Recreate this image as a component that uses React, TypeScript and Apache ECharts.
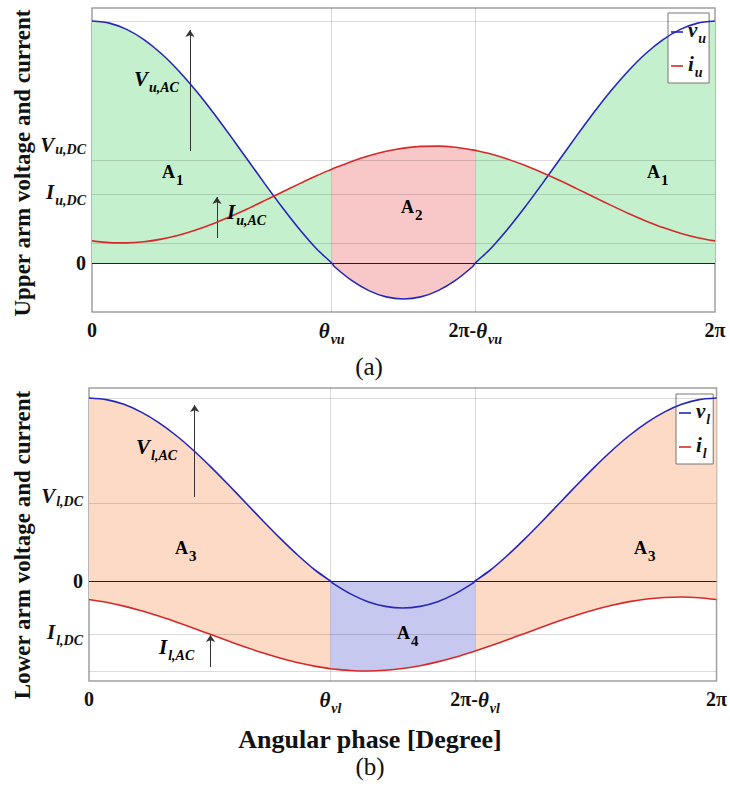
import React, { useEffect, useRef } from 'react';
import * as echarts from 'echarts';

// Angular phase samples (degrees); 138.5 and 221.5 are theta and 2pi - theta
const phaseDeg = [0, 10, 20, 30, 40, 50, 60, 70, 80, 90, 100, 110, 120, 130, 138.5, 140, 150, 160, 170, 180, 190, 200, 210, 220, 221.5, 230, 240, 250, 260, 270, 280, 290, 300, 310, 320, 330, 340, 350, 360];
// Upper arm voltage / current (arbitrary units)
const vUpper = [24.2, 23.99, 23.36, 22.34, 20.95, 19.23, 17.25, 15.05, 12.71, 10.3, 7.89, 5.55, 3.35, 1.37, 0, -0.35, -1.74, -2.76, -3.39, -3.6, -3.39, -2.76, -1.74, -0.35, 0, 1.37, 3.35, 5.55, 7.89, 10.3, 12.71, 15.05, 17.25, 19.23, 20.95, 22.34, 23.36, 23.99, 24.2];
const iUpper = [2.21, 2.04, 2.01, 2.12, 2.39, 2.78, 3.3, 3.93, 4.65, 5.43, 6.26, 7.1, 7.94, 8.75, 9.38, 9.49, 10.16, 10.72, 11.17, 11.49, 11.66, 11.69, 11.58, 11.31, 11.26, 10.92, 10.4, 9.77, 9.05, 8.27, 7.44, 6.6, 5.76, 4.95, 4.21, 3.54, 2.98, 2.53, 2.21];
// Lower arm voltage / current
const vLower = [18.3, 18.14, 17.67, 16.89, 15.84, 14.55, 13.05, 11.39, 9.62, 7.8, 5.98, 4.21, 2.55, 1.05, 0, -0.24, -1.29, -2.07, -2.54, -2.7, -2.54, -2.07, -1.29, -0.24, 0, 1.05, 2.55, 4.21, 5.98, 7.8, 9.62, 11.39, 13.05, 14.55, 15.84, 16.89, 17.67, 18.14, 18.3];
const iLower = [-1.85, -2.13, -2.51, -2.97, -3.51, -4.1, -4.72, -5.36, -6.01, -6.63, -7.21, -7.73, -8.18, -8.54, -8.77, -8.8, -8.95, -9.0, -8.93, -8.75, -8.47, -8.09, -7.63, -7.09, -7.01, -6.5, -5.88, -5.24, -4.59, -3.97, -3.39, -2.87, -2.42, -2.06, -1.8, -1.65, -1.6, -1.67, -1.85];

const thetaDeg = 138.5;
const xTickValues = [0, thetaDeg, 360 - thetaDeg, 360];
const upperGridValues = [24.2, 10.3, 6.85, 2.0];
const lowerGridValues = [18.3, 7.8, -5.3, -9.0];
const upperTickValues = [0, 6.85, 10.3];
const lowerTickValues = [-5.3, 0, 7.8];
const upperTickLabels = ['0', 'I|u,DC', 'V|u,DC'];
const lowerTickLabels = ['I|l,DC', '0', 'V|l,DC'];

const FONT = 'Liberation Serif, serif';
const INK = '#111';
const BLUE = '#2626b8';
const RED = '#d42a2a';
const GREEN_FILL = '#c4f0cd';
const PINK_FILL = '#f8c8c9';
const PEACH_FILL = '#fcdac6';
const LAV_FILL = '#c6c8ef';

const base = { fontFamily: FONT, fontWeight: 'bold', color: INK, verticalAlign: 'top' };
const rich: any = {
  m: { ...base, fontSize: 21, fontStyle: 'italic' },
  s: { ...base, fontSize: 14, fontStyle: 'italic', padding: [12, 0, 0, 1] },
  mU: { ...base, fontSize: 21, fontStyle: 'italic', padding: [0, 0, 30, 0] },
  sU: { ...base, fontSize: 14, fontStyle: 'italic', padding: [8, 0, 22, 1] },
  mL: { ...base, fontSize: 21, fontStyle: 'italic', padding: [0, 0, 14, 0] },
  sL: { ...base, fontSize: 14, fontStyle: 'italic', padding: [9, 0, 5, 1] },
  n: { ...base, fontSize: 20 },
  a: { ...base, fontSize: 18 },
  d: { ...base, fontSize: 15, padding: [9, 0, 0, 1] },
};

const sub = (m: string, s: string, k = '') => `{m${k}|${m}}{s${k}|${s}}`;

function xFormatter(suffix: string) {
  return (v: number) => {
    if (Math.abs(v) < 1e-6) return '{n|0}';
    if (Math.abs(v - 360) < 1e-6) return '{n|2π}';
    if (v < 180) return sub('θ', suffix);
    return `{n|2π-}${sub('θ', suffix)}`;
  };
}

function yFormatter(values: number[], labels: string[], vKey: string) {
  return (v: number) => {
    const k = values.findIndex((t) => Math.abs(t - v) < 1e-6);
    if (k < 0) return '';
    const lab = labels[k];
    if (lab === '0') return '{n|0}';
    const [m, s] = lab.split('|');
    return sub(m, s, m === 'V' ? vKey : '');
  };
}

function mask(vals: number[], outer: boolean) {
  return phaseDeg.map((p, k) => {
    const inner = p >= thetaDeg && p <= 360 - thetaDeg;
    const inOuter = p <= thetaDeg || p >= 360 - thetaDeg;
    return [p, (outer ? inOuter : inner) ? vals[k] : null];
  });
}

function full(vals: number[]) {
  return phaseDeg.map((p, k) => [p, vals[k]]);
}

const SMOOTH = 0.25;

function fillSeries(name: string, idx: number, data: any[], color: string) {
  return {
    name, type: 'line', xAxisIndex: idx, yAxisIndex: idx, data, showSymbol: false, silent: true, smooth: SMOOTH,
    lineStyle: { width: 0, opacity: 0 }, areaStyle: { color, opacity: 1 }, z: 1,
    emphasis: { disabled: true },
  };
}

function gridSeries(idx: number, hValues: number[], arrows: any[]) {
  const gridColor = 'rgba(0,0,0,0.14)';
  return {
    name: 'grid' + idx, type: 'line', xAxisIndex: idx, yAxisIndex: idx, data: [[0, 0]], showSymbol: false,
    silent: true, lineStyle: { opacity: 0 }, z: 3,
    markLine: {
      silent: true, symbol: 'none', animation: false, label: { show: false },
      data: [
        ...hValues.map((y) => ({ yAxis: y, lineStyle: { color: gridColor, width: 1, type: 'solid' } })),
        { yAxis: 0, lineStyle: { color: '#222', width: 1, type: 'solid' } },
        { xAxis: thetaDeg, lineStyle: { color: gridColor, width: 1, type: 'solid' } },
        { xAxis: 360 - thetaDeg, lineStyle: { color: gridColor, width: 1, type: 'solid' } },
        ...arrows.map(([x, y0, y1]) => [
          { coord: [x, y0], symbol: 'none', lineStyle: { color: '#333', width: 1, type: 'solid' } },
          { coord: [x, y1], symbol: 'arrow', symbolSize: 7 },
        ]),
      ],
    },
  };
}

function lineSeries(name: string, idx: number, vals: number[], color: string) {
  return {
    name, type: 'line', xAxisIndex: idx, yAxisIndex: idx, data: full(vals), showSymbol: false, silent: true, smooth: SMOOTH,
    color, itemStyle: { color }, lineStyle: { color, width: 1.6 }, z: 5, emphasis: { disabled: true },
  };
}

function axisPair(idx: number, yMin: number, yMax: number, ticks: number[], labels: string[], suffix: string, vKey: string) {
  const x = {
    type: 'value', gridIndex: idx, min: 0, max: 360,
    axisLine: { show: false, onZero: false }, axisTick: { show: false }, splitLine: { show: false },
    axisLabel: { customValues: xTickValues, formatter: xFormatter(suffix), rich, margin: 8 },
  };
  const y = {
    type: 'value', gridIndex: idx, min: yMin, max: yMax,
    axisLine: { show: false, onZero: false }, axisTick: { show: false }, splitLine: { show: false },
    axisLabel: { customValues: ticks, formatter: yFormatter(ticks, labels, vKey), rich, margin: 6 },
  };
  return { x, y };
}

function legendFor(names: string[], left: number, top: number) {
  return {
    data: names, left, top, orient: 'vertical', selectedMode: false,
    backgroundColor: '#fff', borderColor: '#777', borderWidth: 1, borderRadius: 0,
    padding: [6, 3, 4, 3], itemGap: 8, itemWidth: 12, itemHeight: 1.6, icon: 'rect',
    formatter: (n: string) => {
      const [m, s] = n.split('_');
      return sub(m, s);
    },
    textStyle: { rich },
  };
}

function label(text: string, left: number, top: number) {
  return { type: 'text', x: left, y: top, z: 100, silent: true, style: { text, rich, align: 'left', verticalAlign: 'top', textAlign: 'left', textVerticalAlign: 'top' } };
}

function title(text: string, x: number, y: number, size: number, bold: boolean, rotate: boolean) {
  return {
    type: 'text', x, y, z: 100, rotation: rotate ? Math.PI / 2 : 0, silent: true,
    style: {
      text, fill: INK, fontFamily: FONT, fontSize: size, fontWeight: bold ? 'bold' : 'normal',
      align: 'center', verticalAlign: 'middle', textAlign: 'center', textVerticalAlign: 'middle',
    },
  };
}

export default function App() {
  const ref = useRef<HTMLDivElement>(null);
  useEffect(() => {
    if (!ref.current) return;
    const chart = echarts.init(ref.current, undefined, { renderer: 'svg' });
    const a0 = axisPair(0, -4.9, 25.5, upperTickValues, upperTickLabels, 'vu', 'U');
    const a1 = axisPair(1, -10.0, 19.3, lowerTickValues, lowerTickLabels, 'vl', 'L');
    chart.setOption({
      animation: false,
      backgroundColor: '#fff',
      grid: [
        { left: 92, top: 8, width: 623, height: 304, show: true, borderColor: '#a0a0a0', borderWidth: 1.5, backgroundColor: 'transparent' },
        { left: 89, top: 388, width: 630, height: 293, show: true, borderColor: '#a0a0a0', borderWidth: 1.5, backgroundColor: 'transparent' },
      ],
      xAxis: [a0.x, a1.x],
      yAxis: [a0.y, a1.y],
      legend: [legendFor(['v_u', 'i_u'], 668, 13), legendFor(['v_l', 'i_l'], 676, 394)],
      series: [
        fillSeries('A1 v', 0, mask(vUpper, true), GREEN_FILL),
        fillSeries('A1 i', 0, mask(iUpper, true), GREEN_FILL),
        fillSeries('A2 v', 0, mask(vUpper, false), PINK_FILL),
        fillSeries('A2 i', 0, mask(iUpper, false), PINK_FILL),
        gridSeries(0, upperGridValues, [[56.6, 11.2, 23.3], [72.2, 2.5, 6.6]]),
        lineSeries('v_u', 0, vUpper, BLUE),
        lineSeries('i_u', 0, iUpper, RED),
        fillSeries('A3 v', 1, mask(vLower, true), PEACH_FILL),
        fillSeries('A3 i', 1, mask(iLower, true), PEACH_FILL),
        fillSeries('A4 i', 1, mask(iLower, false), LAV_FILL),
        gridSeries(1, lowerGridValues, [[60.6, 8.4, 17.6], [69.7, -8.6, -5.4]]),
        lineSeries('v_l', 1, vLower, BLUE),
        lineSeries('i_l', 1, iLower, RED),
      ],
      graphic: [
        title('Upper arm voltage and current', 22, 163, 23, true, true),
        title('Lower arm voltage and current', 22, 545, 23, true, true),
        title('Angular phase [Degree]', 370, 739, 26, true, false),
        title('(a)', 369, 366, 25, false, false),
        title('(b)', 370, 766, 25, false, false),
        label(sub('V', 'u,AC'), 134, 68),
        label(sub('I', 'u,AC'), 227, 201),
        label('{a|A}{d|1}', 162, 163),
        label('{a|A}{d|2}', 401, 198),
        label('{a|A}{d|1}', 647, 163),
        label(sub('V', 'l,AC'), 136, 436),
        label(sub('I', 'l,AC'), 159, 636),
        label('{a|A}{d|3}', 175, 539),
        label('{a|A}{d|4}', 397, 624),
        label('{a|A}{d|3}', 634, 539),
      ],
    });
    return () => chart.dispose();
  }, []);
  return <div ref={ref} style={{ position: 'fixed', left: 0, top: 0, width: 730, height: 789 }} />;
}
